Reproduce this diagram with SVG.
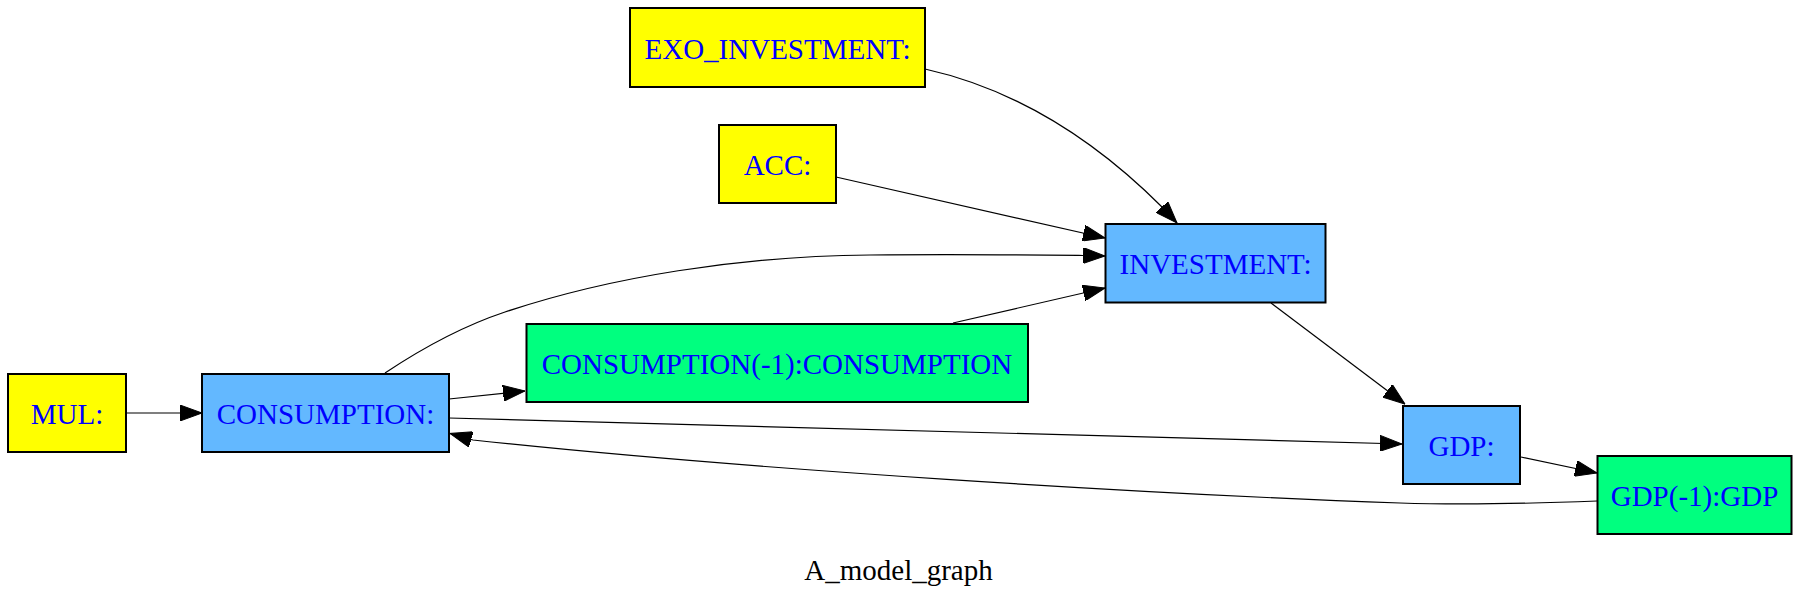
<svg xmlns="http://www.w3.org/2000/svg" width="1800" height="595" viewBox="0 0 1800 595">
<style>
.n rect{stroke:#000;stroke-width:2}
.y rect{fill:#ffff00}
.b rect{fill:#63b8ff}
.g rect{fill:#00ff7f}
.n text{font-family:"Liberation Serif","Times New Roman",serif;font-size:29px;fill:#0000ff;text-anchor:middle}
.e path{fill:none;stroke:#000;stroke-width:1.2;marker-end:url(#arr)}
.t{font-family:"Liberation Serif","Times New Roman",serif;font-size:29px;fill:#000;text-anchor:middle}
</style>
<defs>
<marker id="arr" viewBox="0 0 22 16" refX="22" refY="8" markerWidth="22" markerHeight="16" markerUnits="userSpaceOnUse" orient="auto">
<path d="M0,0 L22,8 L0,16 Z" fill="#000" stroke="#000" stroke-width="1"/>
</marker>
</defs>
<rect width="1800" height="595" fill="#fff"/>
<g id="connectors" class="e">
<path d="M925,69 C1010,88 1090,135 1162,207 L1177,223"/>
<path d="M836,177 L1105,238"/>
<path d="M385,373 C415,353 460,327 505,312 C610,277 740,256 870,255 C960,254 1040,255 1083,255.5 L1105,256"/>
<path d="M953,323 L1105,288"/>
<path d="M1271,303 L1405,404"/>
<path d="M126,413 L202,413"/>
<path d="M449,399 L525,391"/>
<path d="M449,418 L1402,444"/>
<path d="M1521,457 L1597,473"/>
<path d="M1597,501 C1520,504 1460,505 1400,503 C1150,494 750,470 473,440 L450,433.5"/>
</g>
<g id="EXO_INVESTMENT" class="n y"><rect x="630" y="8" width="295" height="79"/><text x="777.5" y="59">EXO_INVESTMENT:</text></g>
<g id="ACC" class="n y"><rect x="719" y="125" width="117" height="78"/><text x="777.5" y="175">ACC:</text></g>
<g id="INVESTMENT" class="n b"><rect x="1105.5" y="224" width="220" height="78.5"/><text x="1215.5" y="274">INVESTMENT:</text></g>
<g id="CONSUMPTION_1" class="n g"><rect x="526.5" y="324" width="501.5" height="78"/><text x="777" y="374">CONSUMPTION(-1):CONSUMPTION</text></g>
<g id="MUL" class="n y"><rect x="8" y="374" width="118" height="78"/><text x="67" y="424">MUL:</text></g>
<g id="CONSUMPTION" class="n b"><rect x="202" y="374" width="247" height="78"/><text x="325.5" y="424">CONSUMPTION:</text></g>
<g id="GDP" class="n b"><rect x="1403" y="406" width="117" height="78"/><text x="1461.5" y="456">GDP:</text></g>
<g id="GDP_1" class="n g"><rect x="1597.5" y="456" width="194" height="78"/><text x="1694.5" y="506">GDP(-1):GDP</text></g>
<text class="t" x="898.5" y="580">A_model_graph</text>
</svg>
